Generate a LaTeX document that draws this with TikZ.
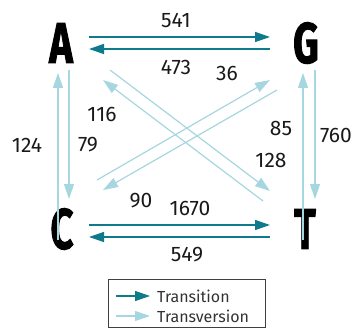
\documentclass[tikz,border=0pt]{standalone}
\usepackage{fontspec}
\setmainfont{Fira Sans}
\usetikzlibrary{arrows.meta}
\definecolor{trs}{HTML}{0E7A8B}
\definecolor{trv}{HTML}{A6D6DF}
\tikzset{
  base/.style={font=\fontsize{57}{57}\selectfont\bfseries\addfontfeatures{FakeBold=2}, inner sep=0pt},
  num/.style={font=\fontsize{21}{21}\selectfont, inner sep=0pt, text=black!90},
  tsn/.style={draw=trs, line width=1.4pt, -{Triangle[length=15pt,width=10pt]}},
  tvn/.style={draw=trv, line width=1.2pt, -{Triangle[length=15pt,width=10pt]}},
  legtxt/.style={font=\fontsize{16}{16}\selectfont, inner sep=0pt, anchor=west, text=black!80},
}
\begin{document}
\begin{tikzpicture}[x=1pt,y=-1pt]
\useasboundingbox (0,0) rectangle (361,331);
% bases
\node[base] (A) at (61,43) {\scalebox{0.7}[1]{A}};
\node[base] (G) at (306,43) {\scalebox{0.7}[1]{G}};
\node[base] (C) at (62,229) {\scalebox{0.7}[1]{C}};
\node[base] (T) at (305,229) {\scalebox{0.7}[1]{T}};
% endpoints
\coordinate (a1) at (89,37);  \coordinate (g1) at (270,37);
\coordinate (a2) at (89,49);  \coordinate (g2) at (270,49);
\coordinate (c1) at (89,225); \coordinate (t1) at (270,225);
\coordinate (c2) at (89,237); \coordinate (t2) at (270,237);
\coordinate (a3) at (58,73);  \coordinate (c3) at (58,240);
\coordinate (a4) at (69,70);  \coordinate (c4) at (69,199);
\coordinate (g3) at (303,73); \coordinate (t3) at (303,240);
\coordinate (g4) at (315,70); \coordinate (t4) at (315,199);
\coordinate (a5) at (110,70); \coordinate (t5) at (270,191);
\coordinate (t6) at (263,201); \coordinate (a6) at (103,80);
\coordinate (g7) at (277,90); \coordinate (c7) at (103,190);
\coordinate (c8) at (97,180); \coordinate (g8) at (270,80);
% transitions
\draw[tsn] (a1) -- (g1);
\draw[tsn] (g2) -- (a2);
\draw[tsn] (c1) -- (t1);
\draw[tsn] (t2) -- (c2);
% transversions
\draw[tvn] (c3) -- (a3);
\draw[tvn] (a4) -- (c4);
\draw[tvn] (t3) -- (g3);
\draw[tvn] (g4) -- (t4);
\draw[tvn] (a5) -- (t5);
\draw[tvn] (t6) -- (a6);
\draw[tvn] (g7) -- (c7);
\draw[tvn] (c8) -- (g8);
% labels
\node[num] (n541) at (176,20) {541};
\node[num] (n473) at (176,67) {473};
\node[num] (n1670) at (190,208) {1670};
\node[num] (n549) at (187,255) {549};
\node[num] (n90) at (141,201) {90};
\node[num] (n124) at (27,145) {124};
\node[num] (n79) at (88,145) {79};
\node[num] (n85) at (281,128) {85};
\node[num] (n760) at (336,135) {760};
\node[num] (n116) at (102,114) {116};
\node[num] (n128) at (271,160) {128};
\node[num] (n36) at (227,73) {36};
% legend
\node[draw=black!75, line width=0.8pt, minimum width=157pt, minimum height=48pt, inner sep=0pt] (leg) at (186.5,303) {};
\coordinate (l1s) at (116,296); \coordinate (l1e) at (150,296);
\coordinate (l2s) at (116,316); \coordinate (l2e) at (150,316);
\draw[tsn] (l1s) -- (l1e);
\draw[tvn] (l2s) -- (l2e);
\node[legtxt] (lt1) at (157,296) {Transition};
\node[legtxt] (lt2) at (157,316) {Transversion};
\end{tikzpicture}
\end{document}
